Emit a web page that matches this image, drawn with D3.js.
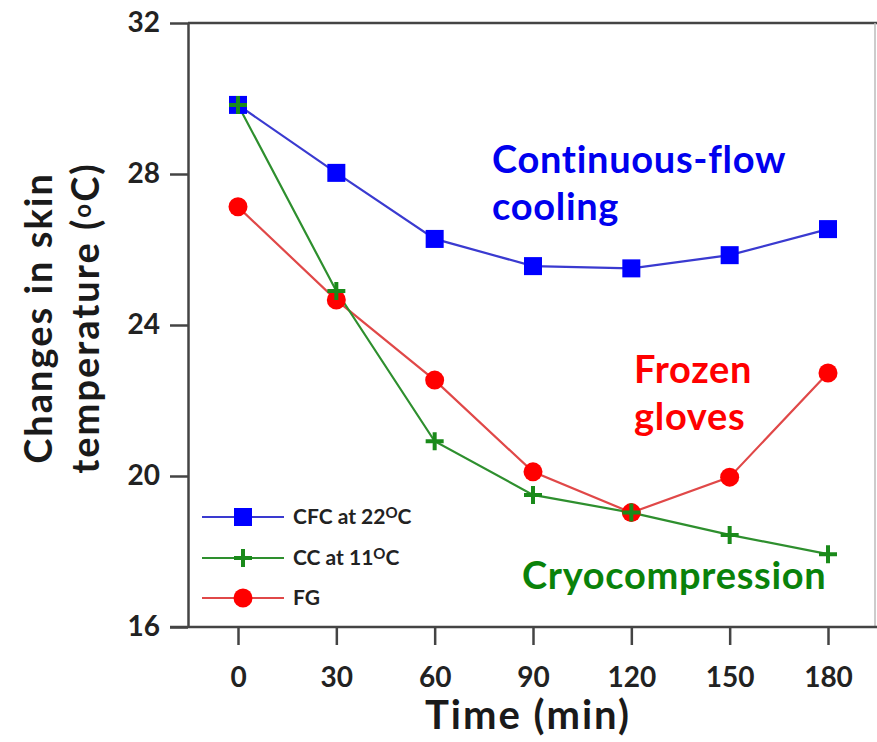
<!DOCTYPE html>
<html><head><meta charset="utf-8">
<script src="https://cdn.jsdelivr.net/npm/d3@7/dist/d3.min.js"></script>
<style>
html,body{margin:0;padding:0;background:#fff;}
svg{display:block;font-family:Lato,"Open Sans",sans-serif;}
</style></head>
<body>
<svg id="chart" width="877" height="742"></svg>
<script>
const times = [0, 30, 60, 90, 120, 150, 180];
const cfcValues = [29.83, 28.03, 26.28, 25.56, 25.5, 25.85, 26.54];
const ccValues = [29.83, 24.9, 20.92, 19.5, 19.03, 18.44, 17.93];
const fgValues = [27.13, 24.66, 22.54, 20.11, 19.03, 19.97, 22.73];
const yTicks = [16, 20, 24, 28, 32];
const seriesNames = ["CFC at 22", "CC at 11", "FG"];

const svg = d3.select("#chart");
const x = d3.scaleLinear().domain([0, 180]).range([238, 828]);
const y = d3.scaleLinear().domain([16, 32]).range([627, 23]);
const axisColor = "#444";

// frame
svg.append("line").attr("x1", 188).attr("x2", 877).attr("y1", 23).attr("y2", 23)
  .attr("stroke", axisColor).attr("stroke-width", 2.5);
svg.append("line").attr("x1", 875).attr("x2", 875).attr("y1", 23).attr("y2", 627)
  .attr("stroke", "#bbb").attr("stroke-width", 1.5);

// y axis
const yAxis = d3.axisLeft(y).tickValues(yTicks).tickSize(18).tickPadding(10).tickSizeOuter(0);
const gy = svg.append("g").attr("transform", "translate(188,0)").call(yAxis);
gy.select(".domain").attr("stroke", axisColor).attr("stroke-width", 2.5);
gy.selectAll(".tick line").attr("stroke", axisColor).attr("stroke-width", 2.5);
gy.selectAll(".tick text").attr("fill", "#222").attr("font-size", 28).attr("font-weight", 700)
  .attr("font-family", "Lato, sans-serif");

// x axis
const xAxis = d3.axisBottom(x).tickValues(times).tickSize(18).tickPadding(22).tickSizeOuter(0);
const gx = svg.append("g").attr("transform", "translate(0,627)").call(xAxis);
gx.select(".domain").attr("d", "M170,0H877").attr("stroke", axisColor).attr("stroke-width", 2.5);
gx.selectAll(".tick line").attr("stroke", axisColor).attr("stroke-width", 2.5);
gx.selectAll(".tick text").attr("fill", "#222").attr("font-size", 28).attr("font-weight", 700)
  .attr("font-family", "Lato, sans-serif");

// axis titles
svg.append("text").attr("x", 528).attr("y", 729).attr("text-anchor", "middle")
  .attr("font-size", 40).attr("font-weight", 700).attr("letter-spacing", 2).attr("fill", "#1a1a1a").text("Time (min)");
const yt = svg.append("text").attr("transform", "translate(52,318) rotate(-90)")
  .attr("text-anchor", "middle").attr("font-size", 38).attr("font-weight", 700)
  .attr("letter-spacing", 2).attr("fill", "#1a1a1a");
yt.append("tspan").attr("x", 0).attr("dy", 0).text("Changes in skin");
const l2 = yt.append("tspan").attr("x", 0).attr("dy", 47);
l2.append("tspan").text("temperature (");
l2.append("tspan").attr("font-size", 24).attr("baseline-shift", "35%").text("o");
l2.append("tspan").text("C)");

// series
const series = [
  {name: seriesNames[0], values: cfcValues, line: "#3a3ad0", mark: "#0000ff", shape: "square", sup: true},
  {name: seriesNames[1], values: ccValues, line: "#2e8f2e", mark: "#1a8a1a", shape: "plus", sup: true},
  {name: seriesNames[2], values: fgValues, line: "#e04848", mark: "#ff0000", shape: "circle", sup: false}
];
const lineGen = d3.line().x((d, i) => x(times[i])).y(d => y(d));

function drawMarker(g, shape, color, cx, cy) {
  if (shape === "square") {
    g.append("rect").attr("x", cx - 9).attr("y", cy - 9).attr("width", 18).attr("height", 18).attr("fill", color);
  } else if (shape === "circle") {
    g.append("circle").attr("cx", cx).attr("cy", cy).attr("r", 9.5).attr("fill", color);
  } else {
    g.append("path").attr("d", `M${cx - 9},${cy}H${cx + 9}M${cx},${cy - 9}V${cy + 9}`)
      .attr("stroke", color).attr("stroke-width", 4);
  }
}

[2, 1, 0].forEach(k => {
  const s = series[k];
  svg.append("path").datum(s.values).attr("d", lineGen).attr("fill", "none")
    .attr("stroke", s.line).attr("stroke-width", 2.2);
});
[2, 0, 1].forEach(k => {
  const s = series[k];
  const g = svg.append("g");
  s.values.forEach((v, i) => drawMarker(g, s.shape, s.mark, x(times[i]), y(v)));
});

// legend
const legY = [517, 558, 598];
series.forEach((s, i) => {
  const g = svg.append("g");
  g.append("line").attr("x1", 202).attr("x2", 284).attr("y1", legY[i]).attr("y2", legY[i])
    .attr("stroke", s.line).attr("stroke-width", 2.2);
  drawMarker(g, s.shape, s.mark, 243, legY[i]);
  const t = g.append("text").attr("x", 293).attr("y", legY[i] + 7).attr("font-size", 21)
    .attr("font-weight", 700).attr("fill", "#222");
  t.append("tspan").text(s.name);
  if (s.sup) {
    t.append("tspan").attr("font-size", 15).attr("baseline-shift", "40%").text("O");
    t.append("tspan").text("C");
  }
});

// annotations
const ann = [
  {lines: ["Continuous-flow", "cooling"], x: 492, y: 173, color: "#0000ee"},
  {lines: ["Frozen", "gloves"], x: 634, y: 383, color: "#ff0000"},
  {lines: ["Cryocompression"], x: 522, y: 589, color: "#0a820a"}
];
ann.forEach(a => {
  const t = svg.append("text").attr("font-size", 38).attr("font-weight", 700)
    .attr("letter-spacing", 0.7).attr("fill", a.color);
  a.lines.forEach((l, i) => t.append("tspan").attr("x", a.x).attr("y", a.y + i * 47).text(l));
});
</script>
</body></html>
